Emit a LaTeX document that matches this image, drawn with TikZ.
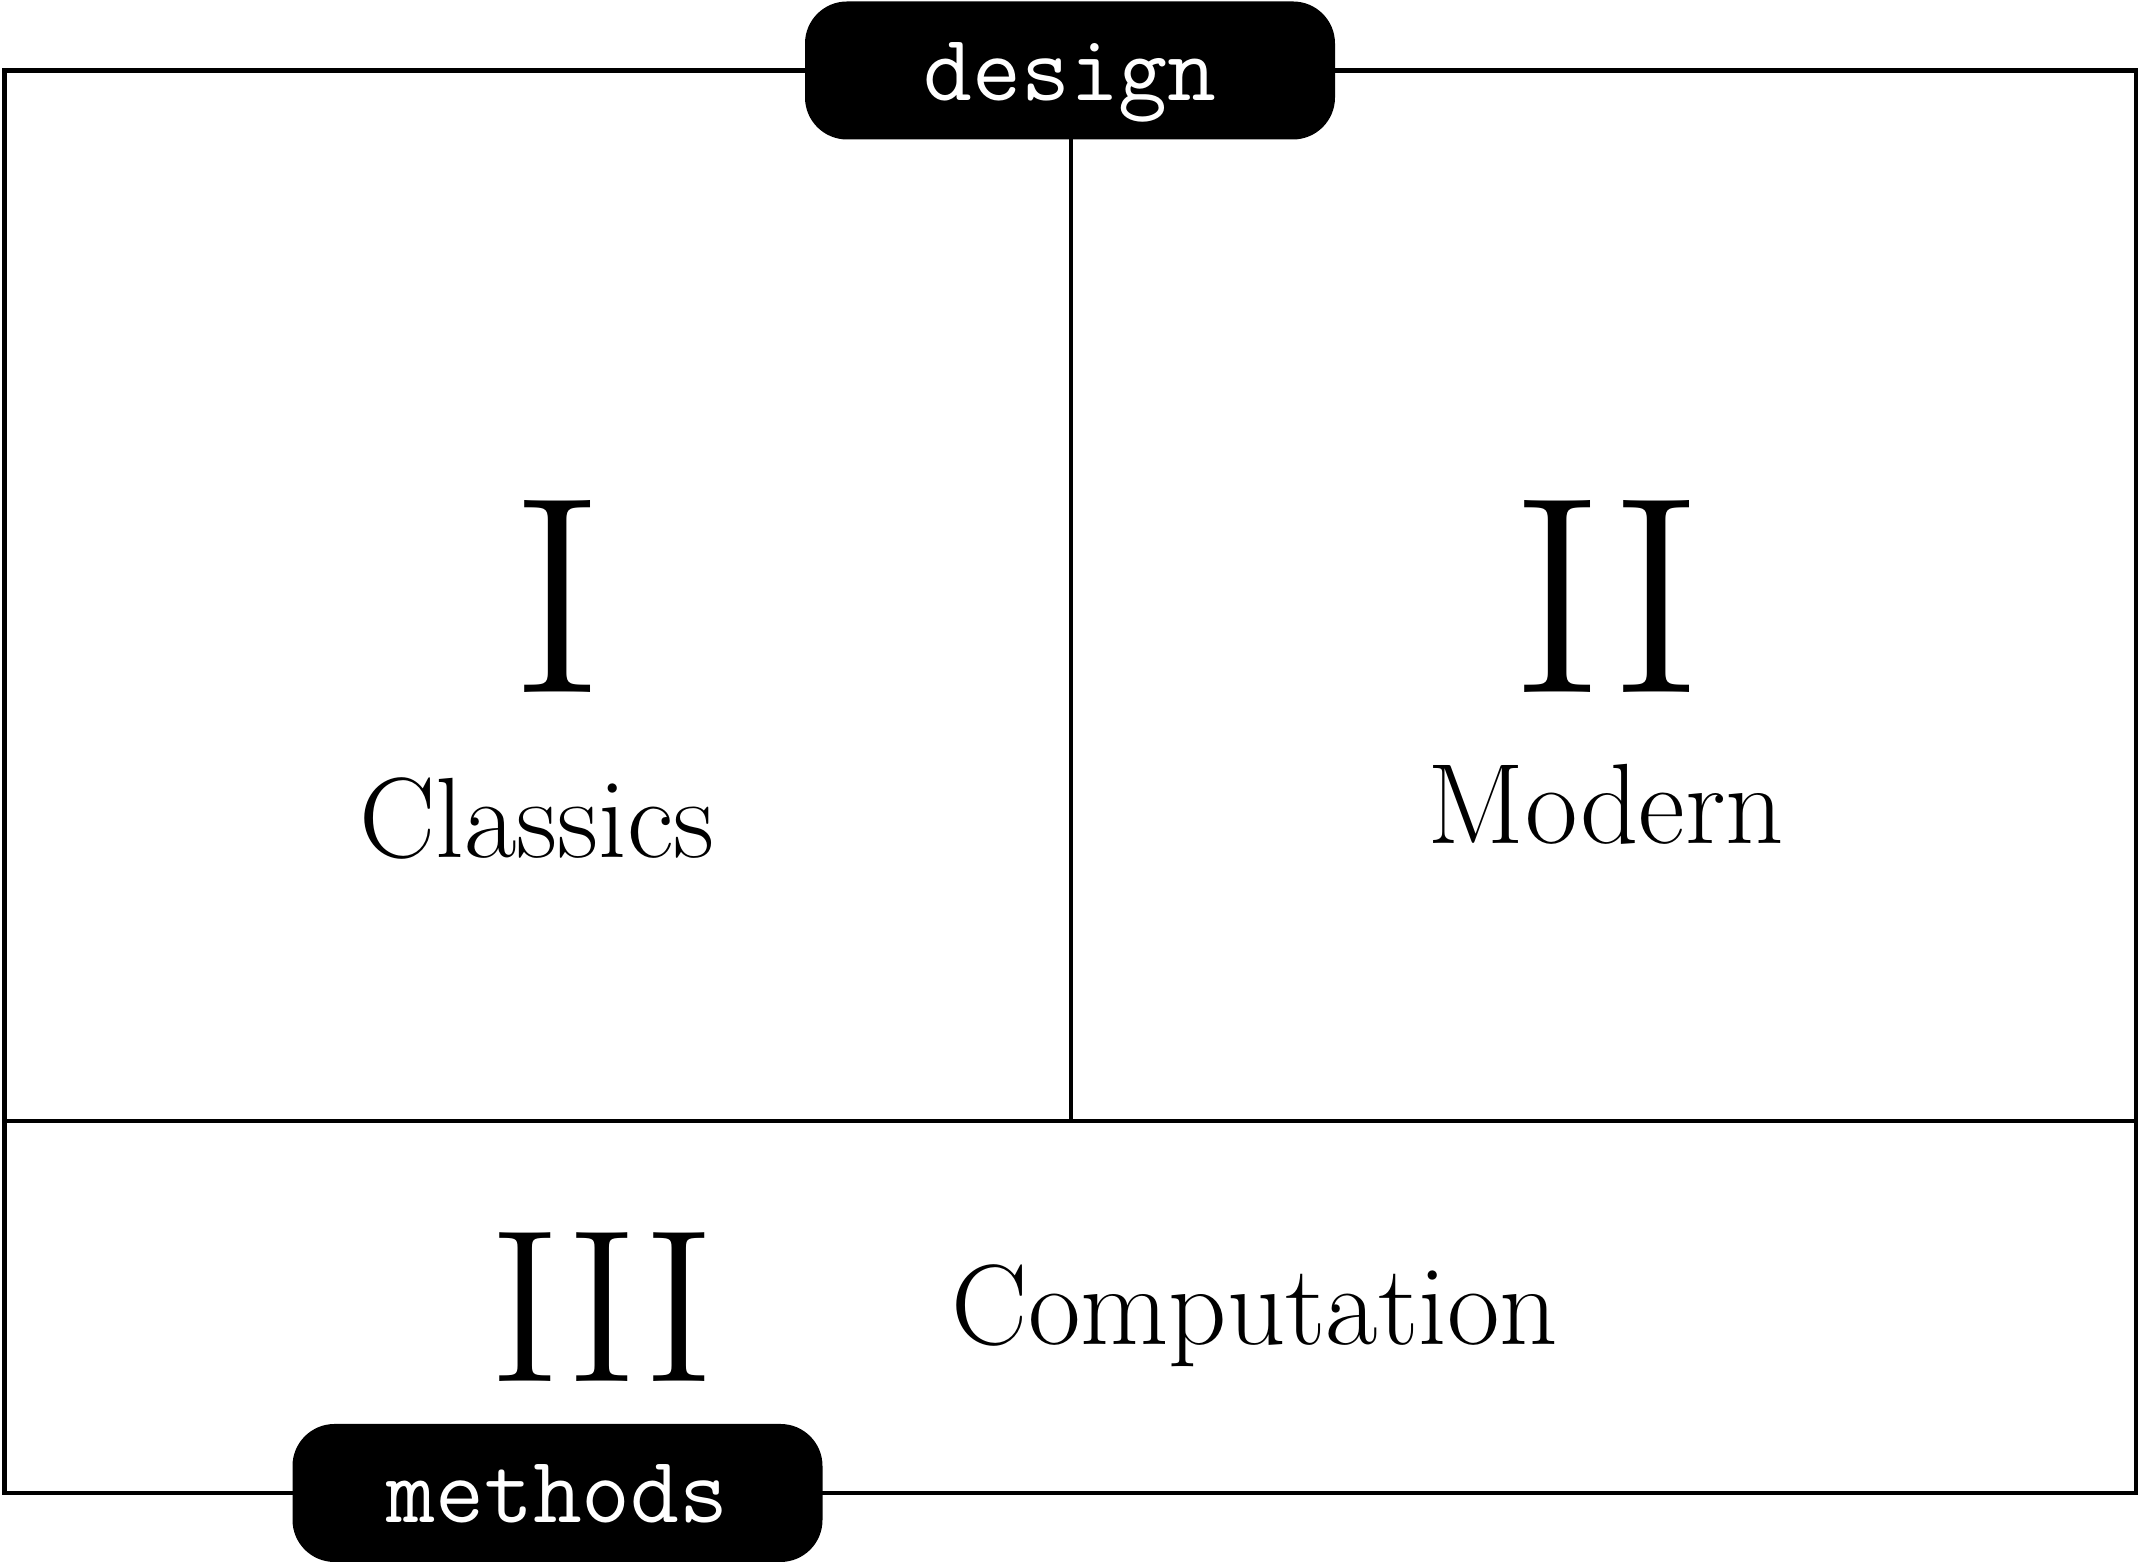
\documentclass[tikz,border=0pt]{standalone}
\usepackage{fontspec}
\usetikzlibrary{positioning}

\tikzset{
  frameline/.style={line width=1.2pt, black},
  tabbox/.style={rectangle, fill=black, text=white, rounded corners=0.42cm,
    minimum width=5.3cm, minimum height=1.38cm, inner sep=0pt,
    text height=0.85cm, text depth=0.25cm, font=\ttfamily\fontsize{27}{30}\selectfont},
  bignum/.style={anchor=base, inner sep=0pt, font=\fontsize{80}{82}\selectfont},
  midnum/.style={anchor=base, inner sep=0pt, font=\fontsize{62}{64}\selectfont},
  partname/.style={anchor=base, inner sep=0pt, font=\fontsize{32.5}{36}\selectfont}
}

\begin{document}
\begin{tikzpicture}
\useasboundingbox (0,0) rectangle (21.41,15.62);

% Frame corners and dividers
\coordinate (tl) at (0.045,14.915);
\coordinate (br) at (21.36,0.69);
\coordinate (midtop) at (10.71,14.915);
\coordinate (midbot) at (10.71,4.41);
\coordinate (divl) at (0.045,4.41);
\coordinate (divr) at (21.36,4.41);

\draw[frameline] (tl) rectangle (br);
\draw[frameline] (midtop) -- (midbot);
\draw[frameline] (divl) -- (divr);

% Parts
\node[bignum] (one) at (5.58,8.69) {I};
\node[partname] (classics) at (5.37,7.04) {Classics};

\node[bignum] (two) at (16.07,8.69) {II};
\node[partname] (modern) at (16.06,7.18) {Modern};

\node[midnum] (three) at (6.02,1.80) {III};
\node[partname] (computation) at (12.55,2.17) {Computation};

% Tabs
\node[tabbox] (design) at (10.70,14.915) {design};
\node[tabbox] (methods) at (5.575,0.69) {methods};

\end{tikzpicture}
\end{document}
